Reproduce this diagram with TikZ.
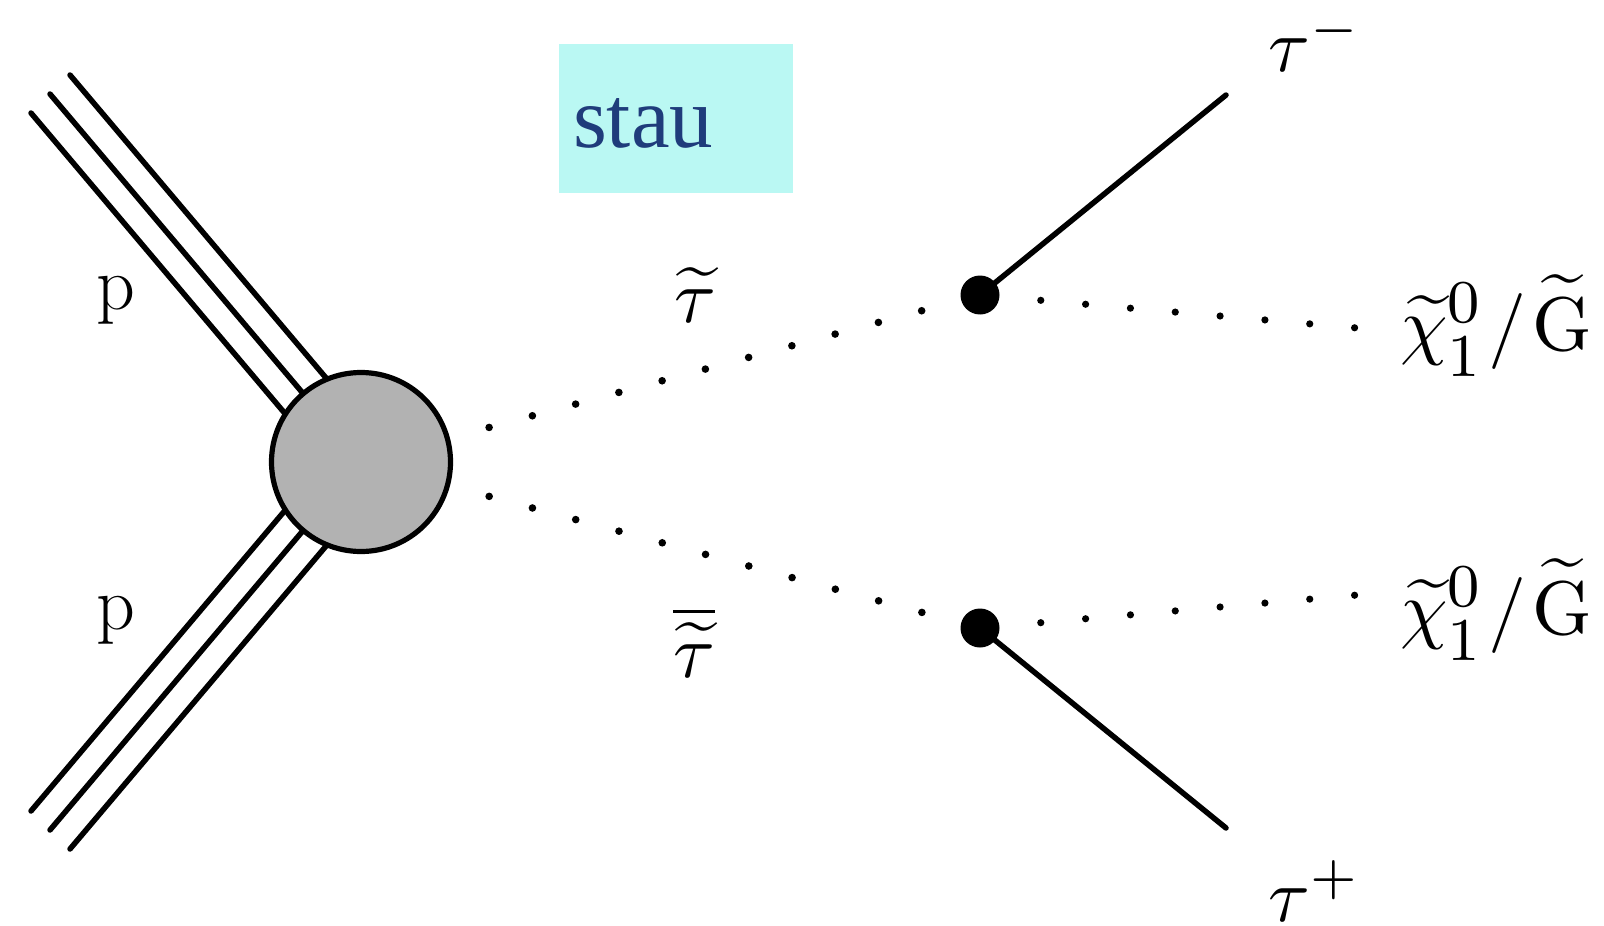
\RequirePackage{fix-cm}
\documentclass[tikz,border=0pt]{standalone}
\usepackage{graphicx}
\usepackage{fontspec}
\usetikzlibrary{calc}
\newfontfamily\staufont{Liberation Serif}
\newcommand{\scr}[1]{\hbox{\fontsize{8}{8}\selectfont #1}}
\definecolor{staubg}{HTML}{BAF8F3}
\definecolor{staufg}{HTML}{1F3C7B}
\definecolor{blobgray}{gray}{0.70}
\begin{document}
\begin{tikzpicture}[x=0.5pt,y=-0.5pt,
  thick line/.style={line width=2.75pt,line cap=round},
  blob/.style={circle,draw=black,line width=2.6pt,fill=blobgray,minimum size=89.5pt,inner sep=0pt},
  vtx/.style={circle,fill=black,minimum size=19.5pt,inner sep=0pt},
  dotsA/.style={line width=3.8pt,line cap=round,dash pattern=on 0pt off 22.4pt,shorten <=66.35pt,shorten >=20.5pt},
  dotsB/.style={line width=3.6pt,line cap=round,dash pattern=on 0pt off 22.5pt,shorten <=30.5pt},
  lbl/.style={inner sep=0pt,font=\fontsize{38}{46}\selectfont},
  mlbl/.style={inner sep=0pt,font=\fontsize{10}{12}\selectfont},
  staubox/.style={fill=staubg,text=staufg,font=\staufont\fontsize{43.5}{50}\selectfont,
    text width=103pt,align=left,inner xsep=7pt,inner ysep=0pt,minimum height=74.5pt,
    text height=29.5pt,text depth=0pt}
]
\useasboundingbox (0,0) rectangle (1604,925);

% stau box
\node[staubox] (stau) at (676,118.5) {stau};

% positions
\coordinate (bc) at (361,462);
\node[vtx] (v1) at (980,295) {};
\node[vtx] (v2) at (980,628) {};
\coordinate (tm) at (1226,95);
\coordinate (tp) at (1226,828);
\coordinate (c1) at (1357,328);
\coordinate (c2) at (1357,595);

% proton lines (upper)
\coordinate (pa1) at (31,113);
\coordinate (pa2) at (50,94);
\coordinate (pa3) at (70,75);
\coordinate (pb1) at ($(bc)+(-19,19)$);
\coordinate (pb2) at (bc);
\coordinate (pb3) at ($(bc)+(20,-19)$);
% proton lines (lower)
\coordinate (qa1) at (31,811);
\coordinate (qa2) at (50,830);
\coordinate (qa3) at (70,849);
\coordinate (qb1) at ($(bc)+(-19,-19)$);
\coordinate (qb2) at (bc);
\coordinate (qb3) at ($(bc)+(20,19)$);
\foreach \i in {1,2,3}{
  \draw[thick line] (pa\i) -- (pb\i);
  \draw[thick line] (qa\i) -- (qb\i);
}

% blob
\node[blob] (blob) at (bc) {};

% stau propagators
\draw[dotsA] (blob.center) -- (v1.center);
\draw[dotsA] (blob.center) -- (v2.center);

% decay products
\draw[thick line] (v1.center) -- (tm);
\draw[thick line] (v2.center) -- (tp);
\draw[dotsB] (v1.center) -- (c1);
\draw[dotsB] (v2.center) -- (c2);

% labels
\node[lbl,anchor=base] (lp1) at (116,309) {p};
\node[lbl,anchor=base] (lp2) at (116,629) {p};
\node[mlbl,anchor=base] (lst) at (695,322) {\scalebox{3.8}{$\widetilde{\tau}$}};
\node[mlbl,anchor=base] (lsb) at (694,677) {\scalebox{3.8}{$\overline{\widetilde{\tau}}$}};
\node[mlbl,anchor=base west] (ltm) at (1268,72) {\scalebox{3.8}{$\tau^-$}};
\node[mlbl,anchor=base west] (ltp) at (1268,921) {\scalebox{3.8}{$\tau^+$}};
\node[mlbl,anchor=base west] (lc1) at (1400,350) {\scalebox{3.8}{$\widetilde{\chi}^{\scr{0}}_{\scr{1}}\mkern1mu/\mkern1.5mu\widetilde{\mathrm{G}}$}};
\node[mlbl,anchor=base west] (lc2) at (1400,634) {\scalebox{3.8}{$\widetilde{\chi}^{\scr{0}}_{\scr{1}}\mkern1mu/\mkern1.5mu\widetilde{\mathrm{G}}$}};
\end{tikzpicture}
\end{document}
